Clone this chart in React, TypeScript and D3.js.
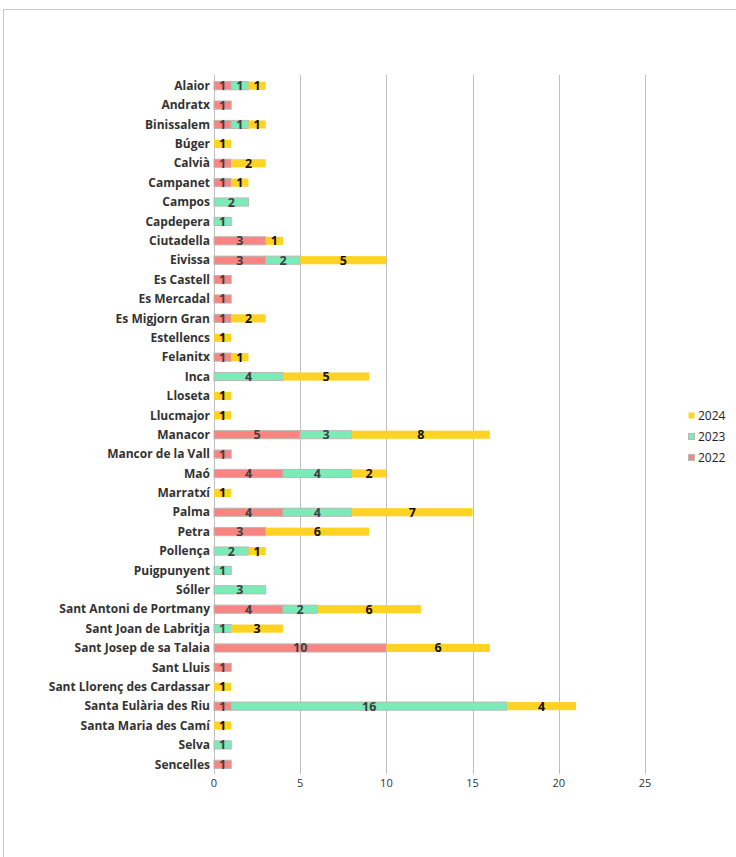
import { useEffect, useRef } from "react";
import * as d3 from "d3";

const municipalities = [
  "Alaior", "Andratx", "Binissalem", "Búger", "Calvià", "Campanet", "Campos",
  "Capdepera", "Ciutadella", "Eivissa", "Es Castell", "Es Mercadal",
  "Es Migjorn Gran", "Estellencs", "Felanitx", "Inca", "Lloseta", "Llucmajor",
  "Manacor", "Mancor de la Vall", "Maó", "Marratxí", "Palma", "Petra",
  "Pollença", "Puigpunyent", "Sóller", "Sant Antoni de Portmany",
  "Sant Joan de Labritja", "Sant Josep de sa Talaia", "Sant Lluis",
  "Sant Llorenç des Cardassar", "Santa Eulària des Riu", "Santa Maria des Camí",
  "Selva", "Sencelles",
];

const values2022 = [1, 1, 1, 0, 1, 1, 0, 0, 3, 3, 1, 1, 1, 0, 1, 0, 0, 0, 5, 1, 4, 0, 4, 3, 0, 0, 0, 4, 0, 10, 1, 0, 1, 0, 0, 1];
const values2023 = [1, 0, 1, 0, 0, 0, 2, 1, 0, 2, 0, 0, 0, 0, 0, 4, 0, 0, 3, 0, 4, 0, 4, 0, 2, 1, 3, 2, 1, 0, 0, 0, 16, 0, 1, 0];
const values2024 = [1, 0, 1, 1, 2, 1, 0, 0, 1, 5, 0, 0, 2, 1, 1, 5, 1, 1, 8, 0, 2, 1, 7, 6, 1, 0, 0, 6, 3, 6, 0, 1, 4, 1, 0, 0];

const seriesNames = ["2022", "2023", "2024"];
const seriesColors = ["#FA8580", "#7AECB8", "#FFD324"];
const xTicks = [0, 5, 10, 15, 20, 25];

const W = 736;
const H = 857;
const FONT = "'Open Sans', sans-serif";

export default function App() {
  const ref = useRef<SVGSVGElement>(null);

  useEffect(() => {
    const svg = d3.select(ref.current);
    svg.selectAll("*").remove();

    const margin = { top: 76, left: 214, right: 91, bottom: 83 };

    svg
      .append("rect")
      .attr("x", 3.5)
      .attr("y", 9.5)
      .attr("width", 800)
      .attr("height", 900)
      .attr("fill", "#fff")
      .attr("stroke", "#c8c8c8");

    const x = d3.scaleLinear().domain([0, 25]).range([margin.left, 645]);
    const y = d3
      .scaleBand()
      .domain(municipalities)
      .range([margin.top, H - margin.bottom])
      .paddingInner(0.58)
      .paddingOuter(0.29);

    const table = municipalities.map((m, i) => ({
      name: m,
      "2022": values2022[i],
      "2023": values2023[i],
      "2024": values2024[i],
    }));
    const stacked = d3.stack<any>().keys(seriesNames)(table);

    // grid
    svg
      .append("g")
      .selectAll("line")
      .data(xTicks)
      .join("line")
      .attr("x1", (d) => Math.round(x(d)) + 0.5)
      .attr("x2", (d) => Math.round(x(d)) + 0.5)
      .attr("y1", margin.top - 1)
      .attr("y2", H - margin.bottom)
      .attr("stroke", "#bfbfbf");

    svg
      .append("g")
      .selectAll("text")
      .data(xTicks)
      .join("text")
      .attr("x", (d) => x(d))
      .attr("y", H - margin.bottom + 13)
      .attr("text-anchor", "middle")
      .attr("font-family", FONT)
      .attr("font-size", 11)
      .attr("fill", "#333")
      .text((d) => d);

    // category labels
    svg
      .append("g")
      .selectAll("text")
      .data(municipalities)
      .join("text")
      .attr("x", margin.left - 4)
      .attr("y", (d) => (y(d) ?? 0) + y.bandwidth() / 2)
      .attr("dy", "0.35em")
      .attr("text-anchor", "end")
      .attr("font-family", FONT)
      .attr("font-size", 12)
      .attr("font-weight", "bold")
      .attr("fill", "#333")
      .text((d) => d);

    stacked.forEach((layer, si) => {
      const g = svg.append("g");
      const segs = layer.filter((d) => d[1] - d[0] > 0);
      g.selectAll("rect")
        .data(segs)
        .join("rect")
        .attr("x", (d) => x(d[0]))
        .attr("y", (d) => y(d.data.name) ?? 0)
        .attr("width", (d) => x(d[1]) - x(d[0]))
        .attr("height", y.bandwidth())
        .attr("fill", seriesColors[si])
        .attr("stroke", si < 2 ? "#b8b8b8" : "none")
        .attr("stroke-width", 1);
      g.selectAll("text")
        .data(segs)
        .join("text")
        .attr("x", (d) => (x(d[0]) + x(d[1])) / 2)
        .attr("y", (d) => (y(d.data.name) ?? 0) + y.bandwidth() / 2)
        .attr("dy", "0.36em")
        .attr("text-anchor", "middle")
        .attr("font-family", FONT)
        .attr("font-size", 12.5)
        .attr("font-weight", "bold")
        .attr("fill", si < 2 ? "#404040" : "#111")
        .text((d) => d[1] - d[0]);
    });

    // legend
    const legend = svg.append("g");
    const order = [2, 1, 0];
    order.forEach((si, i) => {
      const ly = 416 + i * 21;
      legend
        .append("rect")
        .attr("x", 688.5)
        .attr("y", ly - 3.5)
        .attr("width", 6)
        .attr("height", 6)
        .attr("fill", seriesColors[si])
        .attr("stroke", si < 2 ? "#b8b8b8" : "none");
      legend
        .append("text")
        .attr("x", 698)
        .attr("y", ly)
        .attr("dy", "0.35em")
        .attr("font-family", FONT)
        .attr("font-size", 12)
        .attr("fill", "#222")
        .text(seriesNames[si]);
    });
  }, []);

  return (
    <svg
      ref={ref}
      width={W}
      height={H}
      style={{ position: "absolute", left: 0, top: 0 }}
    />
  );
}
